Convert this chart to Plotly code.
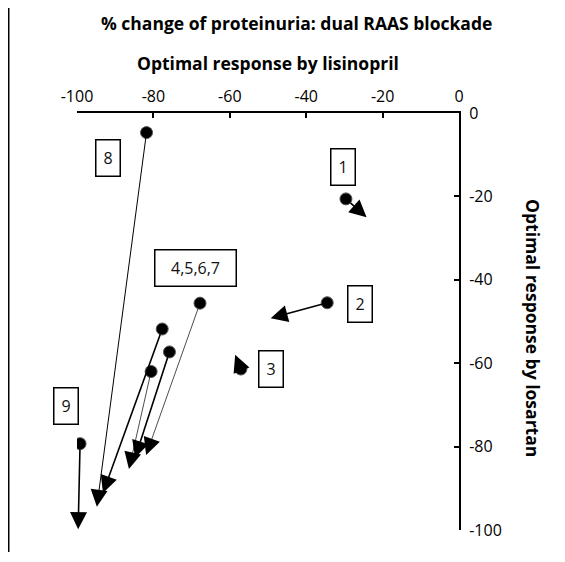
import plotly.graph_objects as go

# ---- data ----
patients = ["1", "2", "3", "4", "5", "6", "7", "8", "9"]
lisinopril_resp = [-29.6, -34.5, -57.1, -67.8, -77.7, -75.8, -80.6, -81.8, -99.2]
losartan_resp = [-20.6, -45.5, -61.4, -45.6, -51.8, -57.3, -62.0, -4.7, -79.3]
dual_x = [-24.2, -49.3, -58.6, -81.9, -93.2, -84.8, -86.4, -94.8, -99.7]
dual_y = [-25.0, -49.2, -58.0, -82.0, -91.1, -82.7, -85.4, -94.4, -99.8]

label_texts = ["1", "2", "3", "4,5,6,7", "8", "9"]
label_x = [-30.4, -25.9, -49.3, -69.1, -91.9, -99.5]
label_y = [-12.9, -45.8, -61.3, -37.1, -10.7, -70.2]

x_ticks = [-100, -80, -60, -40, -20, 0]
y_ticks = [0, -20, -40, -60, -80, -100]

# styles
arrow_widths = [1.6, 1.6, 1.6, 0.7, 1.6, 1.6, 0.7, 1.0, 1.6]
FONT = "Open Sans"

fig = go.Figure()

fig.add_trace(go.Scatter(
    x=lisinopril_resp, y=losartan_resp, mode="markers",
    marker=dict(size=12, color="black", line=dict(color="#555555", width=1)),
    text=patients, hoverinfo="text", showlegend=False,
))

annotations = []
for i in range(len(patients)):
    w = arrow_widths[i]
    annotations.append(dict(
        x=dual_x[i], y=dual_y[i], ax=lisinopril_resp[i], ay=losartan_resp[i],
        xref="x", yref="y", axref="x", ayref="y", text="",
        showarrow=True, arrowhead=2, arrowsize=3.4 / w,
        arrowwidth=w, arrowcolor="black", startstandoff=4,
    ))

for t, lx, ly in zip(label_texts, label_x, label_y):
    bw = 72 if len(t) > 1 else 15
    annotations.append(dict(
        x=lx, y=ly, xref="x", yref="y", text=t, showarrow=False,
        xanchor="right" if t == "9" else "center", yanchor="middle",
        font=dict(family=FONT, size=16, color="#111111"),
        bordercolor="black", borderwidth=1.5, borderpad=4,
        width=bw, height=27, bgcolor="white",
    ))

annotations.append(dict(
    x=1.194, y=0.484, xref="paper", yref="paper", xanchor="center", yanchor="middle",
    text="<b>Optimal response by losartan</b>",
    textangle=90, showarrow=False, font=dict(family=FONT, size=17.5, color="black"),
))
annotations.append(dict(
    x=0.5, y=1.12, xref="paper", yref="paper", xanchor="center", yanchor="middle",
    text="<b>Optimal response by lisinopril</b>",
    showarrow=False, font=dict(family=FONT, size=17.5, color="black"),
))
annotations.append(dict(
    x=0.574, y=1.216, xref="paper", yref="paper", xanchor="center", yanchor="middle",
    text="<b>% change of proteinuria: dual RAAS blockade</b>",
    showarrow=False, font=dict(family=FONT, size=17.5, color="black"),
))

# the page body has an 8px default margin, so the figure is 8px smaller
fig.update_layout(
    width=557, height=554,
    margin=dict(l=69, r=106, t=105, b=32),
    paper_bgcolor="white", plot_bgcolor="white",
    annotations=annotations,
    font=dict(family=FONT, size=16, color="black"),
    shapes=[dict(type="line", xref="paper", yref="paper",
                 x0=-0.1787, x1=-0.1787, y0=1.27, y1=-0.0528,
                 line=dict(color="black", width=1.5))],
)
fig.update_xaxes(
    range=[-100, 0], side="top", tickvals=x_ticks, ticktext=[str(v) for v in x_ticks],
    showgrid=False, zeroline=False, showline=True, linecolor="black", linewidth=2,
    ticks="inside", ticklen=5, tickwidth=2, tickcolor="black", ticklabelstandoff=3,
    tickfont=dict(family=FONT, size=16, color="black"),
)
fig.update_yaxes(
    range=[-100, 0], side="right", tickvals=y_ticks, ticktext=[str(v) for v in y_ticks],
    showgrid=False, zeroline=False, showline=True, linecolor="black", linewidth=2,
    ticks="inside", ticklen=5, tickwidth=2, tickcolor="black", ticklabelstandoff=5,
    tickfont=dict(family=FONT, size=16, color="black"),
)

fig.write_html("out.html")
